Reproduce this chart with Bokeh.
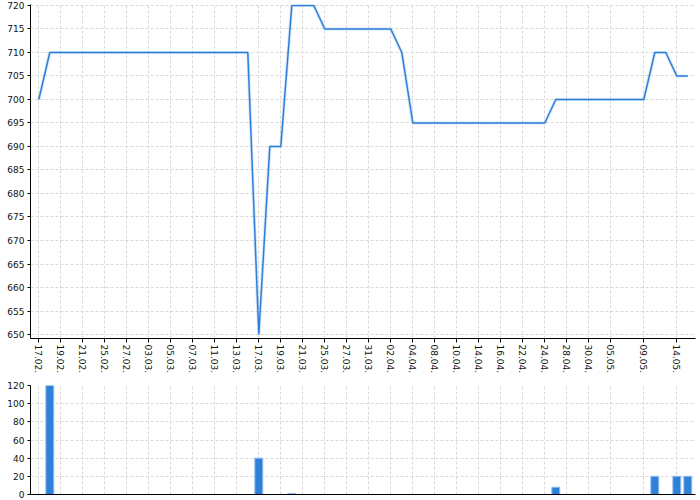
from bokeh.plotting import figure
from bokeh.layouts import column
from bokeh.models import Range1d, FixedTicker
from bokeh.embed import file_html
from bokeh.resources import INLINE

# ---- data (index-based x axis; one step per record) ----
line_values = [700] + [710] * 19 + [650] + [690] * 2 + [720] * 3 + [715] * 7 + [710] + [695] * 13 + [700] * 9 + [710] * 2 + [705] * 2
tick_positions = [0, 2, 4, 6, 8, 10, 12, 14, 16, 18, 20, 22, 24, 26, 28, 30, 32, 34, 36, 38, 40, 42, 44, 46, 48, 50, 52, 55, 58]
tick_labels = ["17.02.", "19.02.", "21.02.", "25.02.", "27.02.", "03.03.", "05.03.", "07.03.", "11.03.", "13.03.",
               "17.03.", "19.03.", "21.03.", "25.03.", "27.03.", "31.03.", "02.04.", "04.04.", "08.04.", "10.04.",
               "14.04.", "16.04.", "22.04.", "24.04.", "28.04.", "30.04.", "05.05.", "09.05.", "14.05."]
bar_positions = [1, 20, 23, 47, 56, 58, 59]
bar_values = [120, 40, 1, 8, 20, 20, 20]
y_ticks_top = list(range(650, 721, 5))
y_ticks_bottom = list(range(0, 121, 20))

BLUE = "#2f80d9"
FONT = "DejaVu Sans"
GRID = "#d9d9d9"

x_range = Range1d(-0.755, 59.7)


def style(p, yticks):
    p.outline_line_color = None
    p.background_fill_color = "white"
    p.border_fill_color = "white"
    for ax in (p.xaxis[0], p.yaxis[0]):
        ax.axis_line_color = "black"
        ax.axis_line_width = 1
        ax.major_tick_line_color = "black"
        ax.minor_tick_line_color = None
        ax.major_tick_in = 0
        ax.major_label_text_font = FONT
        ax.major_label_text_font_size = "9px"
        ax.major_label_text_color = "#111111"
    p.yaxis[0].ticker = FixedTicker(ticks=yticks)
    p.yaxis[0].major_tick_out = 3
    p.yaxis[0].major_label_standoff = 3
    p.ygrid[0].ticker = FixedTicker(ticks=yticks)
    p.xgrid[0].ticker = FixedTicker(ticks=tick_positions)
    for g in (p.xgrid[0], p.ygrid[0]):
        g.grid_line_color = GRID
        g.grid_line_dash = "3 2"
        g.grid_line_width = 1


p1 = figure(width=700, height=380, x_range=x_range, y_range=Range1d(649.15, 720.21),
            output_backend="svg", toolbar_location=None,
            min_border_left=30, min_border_right=5, min_border_top=4, min_border_bottom=42)
style(p1, y_ticks_top)
p1.xaxis[0].ticker = FixedTicker(ticks=tick_positions)
p1.xaxis[0].major_label_overrides = {pos: lab for pos, lab in zip(tick_positions, tick_labels)}
p1.xaxis[0].major_label_orientation = "vertical"
p1.xaxis[0].major_tick_out = 4
p1.xaxis[0].major_label_standoff = 2

xs = list(range(len(line_values)))
p1.line(xs, line_values, line_color=BLUE, line_width=3.2, line_alpha=0.2)
p1.line(xs, line_values, line_color=BLUE, line_width=1.5)

p2 = figure(width=700, height=120, x_range=x_range, y_range=Range1d(0, 120),
            output_backend="svg", toolbar_location=None,
            min_border_left=30, min_border_right=5, min_border_top=5, min_border_bottom=6)
style(p2, y_ticks_bottom)
p2.xaxis[0].ticker = FixedTicker(ticks=[])
p2.xaxis[0].major_tick_out = 0
p2.xaxis[0].major_label_text_font_size = "0px"
p2.vbar(x=bar_positions, top=bar_values, bottom=0, width=0.72,
        fill_color=BLUE, line_color="#8dbbee", line_width=1)

layout = column(p1, p2, spacing=0)

open("out.html", "w").write(file_html(layout, INLINE))
